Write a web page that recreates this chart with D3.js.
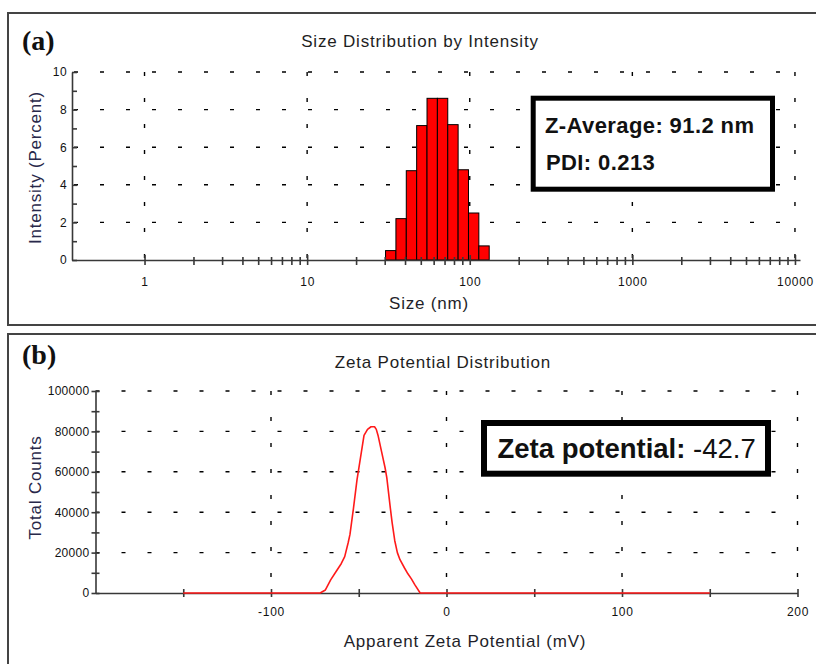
<!DOCTYPE html>
<html>
<head>
<meta charset="utf-8">
<script src="https://cdn.jsdelivr.net/npm/d3@7"></script>
<style>
body { margin: 0; background: #fff; }
svg text { font-family: "Liberation Sans", Arial, sans-serif; }
</style>
</head>
<body>
<svg id="chart" width="816" height="664"></svg>
<script>
// ---- panel (a): size distribution by intensity
var sizeBins = [32.67, 37.84, 43.82, 50.75, 58.77, 68.06, 78.82, 91.28, 105.7, 122.4]; // nm, bin centres
var intensity = [0.5, 2.2, 4.75, 7.15, 8.6, 8.6, 7.2, 4.8, 2.5, 0.75]; // percent
var sizeTicks = [1, 10, 100, 1000, 10000];
var sizeMinorTicks = [2, 3, 4, 5, 6, 7, 8, 9, 20, 30, 40, 50, 60, 70, 80, 90,
    200, 300, 400, 500, 600, 700, 800, 900, 2000, 3000, 4000, 5000, 6000, 7000, 8000, 9000];
var intensityTicks = [0, 2, 4, 6, 8, 10];
var intensityMinorTicks = [1, 3, 5, 7, 9];

// ---- panel (b): zeta potential distribution
var zetaMv = [-150, -72, -69, -66, -63, -60, -58, -56, -55, -53, -51, -49, -47, -45, -43, -41, -40, -39,
    -37, -35, -34, -32, -31, -29.5, -28, -26.5, -24, -22, -20, -18, -15, 150];
var zetaCounts = [0, 0, 1500, 6500, 10500, 14500, 18000, 25000, 29000, 42000, 56000, 67000, 78000, 81000,
    82300, 82300, 81000, 78000, 70000, 62000, 57000, 42000, 35000, 26000, 20000, 16500, 12500, 9500, 7000, 4000, 0, 0];
var zetaTicks = [-150, -100, -50, 0, 50, 100, 150, 200];
var zetaLabels = [-100, 0, 100, 200];
var countTicks = [0, 20000, 40000, 60000, 80000, 100000];
var countMinorTicks = [10000, 30000, 50000, 70000, 90000];

var axisColor = "#383838";
var titleColor = "#1e1e1e";
var xTitleColor = "#1f1f2a";
var yTitleColor = "#28284a";

var svg = d3.select("#chart");

svg.append("rect").attr("width", 816).attr("height", 664).attr("fill", "#fff");

// panel frames
svg.append("rect").attr("x", 8).attr("y", 13).attr("width", 812).attr("height", 312)
    .attr("fill", "none").attr("stroke", "#444").attr("stroke-width", 2);
svg.append("rect").attr("x", 8).attr("y", 334).attr("width", 812).attr("height", 340)
    .attr("fill", "none").attr("stroke", "#444").attr("stroke-width", 2);

/*====================================================================
       helpers
    ==================================================================*/
function dashedH(g, ys, x0, x1, offset) {
    g.selectAll(null).data(ys).enter().append("line")
        .attr("x1", x0).attr("x2", x1)
        .attr("y1", function (d) { return d; }).attr("y2", function (d) { return d; })
        .attr("stroke", "#000").attr("stroke-width", 1.4)
        .attr("stroke-dasharray", "4,22").attr("stroke-dashoffset", offset);
}
function dashedV(g, xs, y0, y1, offset) {
    g.selectAll(null).data(xs).enter().append("line")
        .attr("y1", y0).attr("y2", y1)
        .attr("x1", function (d) { return d; }).attr("x2", function (d) { return d; })
        .attr("stroke", "#000").attr("stroke-width", 1.4)
        .attr("stroke-dasharray", "4,22").attr("stroke-dashoffset", offset);
}
function styleAxis(g) {
    g.attr("font-family", null).attr("font-size", null);
    g.select(".domain").attr("stroke", axisColor).attr("stroke-width", 1.6);
    g.selectAll(".tick line").attr("stroke", axisColor).attr("stroke-width", 1.6);
    g.selectAll(".tick text").attr("fill", "#111").attr("font-size", 12).attr("letter-spacing", 0.7);
}
function label(txt, x, y, size, color, opts) {
    var t = svg.append("text").attr("x", x).attr("y", y)
        .attr("font-size", size).attr("fill", color)
        .attr("text-anchor", "middle").attr("letter-spacing", 0.8).text(txt);
    if (opts && opts.rotate) {
        t.attr("x", 0).attr("y", 0).attr("transform", "translate(" + x + "," + y + ") rotate(-90)");
    }
    return t;
}

/*====================================================================
       panel (a)
    ==================================================================*/
var xA = d3.scaleLog().domain([Math.pow(10, -0.446), Math.pow(10, 4.031)]).range([72, 800]);
var yA = d3.scaleLinear().domain([0, 10]).range([260, 72]);
var gA = svg.append("g");

dashedH(gA, intensityTicks.slice(1).map(yA), xA.range()[0], xA(10000), 24);
dashedV(gA, sizeTicks.map(xA), yA(10), yA(0), 0);

var binRatio = Math.sqrt(sizeBins[1] / sizeBins[0]);
gA.selectAll(".bar").data(sizeBins).enter().append("rect")
    .attr("class", "bar")
    .attr("x", function (d) { return xA(d / binRatio); })
    .attr("width", function (d) { return xA(d * binRatio) - xA(d / binRatio); })
    .attr("y", function (d, i) { return yA(intensity[i]); })
    .attr("height", function (d, i) { return yA(0) - yA(intensity[i]); })
    .attr("fill", "#ff0000").attr("stroke", "#000").attr("stroke-width", 1);

var axXA = gA.append("g").attr("transform", "translate(0," + yA(0) + ")")
    .call(d3.axisBottom(xA).tickValues(sizeTicks).tickFormat(d3.format("d")).tickSize(5).tickSizeOuter(0));
styleAxis(axXA);
axXA.selectAll(".tick line").attr("y1", -5);
axXA.selectAll(".tick text").attr("y", 26).attr("dy", 0);

var axXAm = gA.append("g").attr("transform", "translate(0," + yA(0) + ")")
    .call(d3.axisBottom(xA).tickValues(sizeMinorTicks).tickFormat("").tickSize(5).tickSizeOuter(0));
styleAxis(axXAm);
axXAm.select(".domain").remove();
axXAm.selectAll(".tick line").attr("y1", -3);

var axYA = gA.append("g").attr("transform", "translate(" + xA.range()[0] + ",0)")
    .call(d3.axisLeft(yA).tickValues(intensityTicks).tickSize(-5).tickSizeOuter(0));
styleAxis(axYA);
axYA.selectAll(".tick text").attr("x", -5).attr("letter-spacing", 0.4);

var axYAm = gA.append("g").attr("transform", "translate(" + xA.range()[0] + ",0)")
    .call(d3.axisLeft(yA).tickValues(intensityMinorTicks).tickFormat("").tickSize(-5).tickSizeOuter(0));
styleAxis(axYAm);
axYAm.select(".domain").remove();

label("Size Distribution by Intensity", 420, 47, 17, titleColor);
label("Size (nm)", 429, 309, 17, xTitleColor);
label("Intensity (Percent)", 41, 167.5, 17, yTitleColor, { rotate: true });

svg.append("text").attr("x", 22).attr("y", 50)
    .style("font-family", "'Liberation Serif', 'Times New Roman', serif")
    .attr("font-size", 28).attr("font-weight", "bold").attr("fill", "#111").text("(a)");

// result box
svg.append("rect").attr("x", 533.2).attr("y", 98.2).attr("width", 239.3).attr("height", 91)
    .attr("fill", "#fff").attr("stroke", "#000").attr("stroke-width", 5);
svg.append("text").attr("x", 545).attr("y", 133).attr("font-size", 22).attr("font-weight", "bold")
    .attr("letter-spacing", 0.4).attr("fill", "#111").text("Z-Average: 91.2 nm");
svg.append("text").attr("x", 546).attr("y", 170).attr("font-size", 22).attr("font-weight", "bold")
    .attr("letter-spacing", 0.4).attr("fill", "#111").text("PDI: 0.213");

/*====================================================================
       panel (b)
    ==================================================================*/
var xB = d3.scaleLinear().domain([-200, 200]).range([95.5, 797.5]);
var yB = d3.scaleLinear().domain([0, 100000]).range([593, 391]);
var gB = svg.append("g");

dashedH(gB, countTicks.slice(1).map(yB), xB(-200), xB(200), 0);
dashedV(gB, zetaLabels.map(xB), yB(100000), yB(0), 0);

var axXB = gB.append("g").attr("transform", "translate(0," + yB(0) + ")")
    .call(d3.axisBottom(xB).tickValues(zetaTicks).tickSize(4).tickSizeOuter(0)
        .tickFormat(function (d) { return zetaLabels.indexOf(d) >= 0 ? (d < 0 ? "-" + Math.abs(d) : d) : ""; }));
styleAxis(axXB);
axXB.selectAll(".tick line").attr("y1", -4);
axXB.selectAll(".tick text").attr("y", 23).attr("dy", 0);

var axYB = gB.append("g").attr("transform", "translate(" + xB(-200) + ",0)")
    .call(d3.axisLeft(yB).tickValues(countTicks.concat(countMinorTicks)).tickSize(4).tickSizeOuter(0)
        .tickFormat(function (d) { return countTicks.indexOf(d) >= 0 ? d : ""; }));
styleAxis(axYB);
axYB.selectAll(".tick line").attr("x1", 4);
axYB.selectAll(".tick text").attr("x", -6).attr("letter-spacing", 0.3);

var zetaLine = d3.line()
    .x(function (d, i) { return xB(zetaMv[i]); })
    .y(function (d) { return yB(d); });
gB.append("path").datum(zetaCounts)
    .attr("d", zetaLine)
    .attr("fill", "none").attr("stroke", "#ff1a1a").attr("stroke-width", 1.6)
    .attr("stroke-linejoin", "round");

label("Zeta Potential Distribution", 443, 368, 17, titleColor);
label("Apparent Zeta Potential (mV)", 465, 647, 17, xTitleColor);
label("Total Counts", 41, 487.5, 17, yTitleColor, { rotate: true });

svg.append("text").attr("x", 22).attr("y", 364)
    .style("font-family", "'Liberation Serif', 'Times New Roman', serif")
    .attr("font-size", 28).attr("font-weight", "bold").attr("fill", "#111").text("(b)");

svg.append("rect").attr("x", 484).attr("y", 423).attr("width", 284).attr("height", 50.7)
    .attr("fill", "#fff").attr("stroke", "#000").attr("stroke-width", 6);
var zt = svg.append("text").attr("x", 497.5).attr("y", 458).attr("font-size", 27.5).attr("fill", "#111");
zt.append("tspan").attr("font-weight", "bold").text("Zeta potential: ");
zt.append("tspan").attr("font-weight", "normal").text("-42.7");
</script>
</body>
</html>
